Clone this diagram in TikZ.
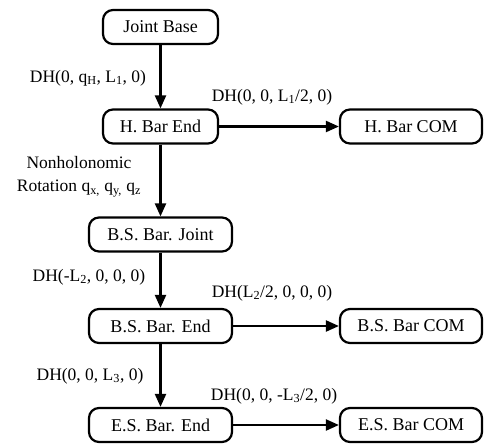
\documentclass[tikz,border=0pt]{standalone}
\usepackage{fontspec}
\setmainfont{Liberation Serif}
\usetikzlibrary{arrows.meta}
\begin{document}
\begin{tikzpicture}[x=1pt,y=-1pt,
  box/.style={draw, line width=2.2pt, rounded corners=10pt, minimum height=34pt, inner sep=0pt, font=\fontsize{18}{20}\selectfont},
  lbl/.style={inner sep=0pt, font=\fontsize{17.5}{23}\selectfont},
  arr/.style={line width=2.2pt, -{Triangle[length=13pt,width=11pt]}}]
\useasboundingbox (0,0) rectangle (484,445);
\node[box, minimum width=115pt] (jb) at (160.5,27) {Joint Base};
\node[box, minimum width=115pt] (hbe) at (160.5,126.5) {H. Bar End};
\node[box, minimum width=142pt] (hbc) at (411,126.5) {H. Bar COM};
\node[box, minimum width=143pt] (bsj) at (160.5,234.5) {B.S. Bar. Joint};
\node[box, minimum width=143pt] (bse) at (160.5,326) {B.S. Bar. End};
\node[box, minimum width=142pt] (bsc) at (411,326) {B.S. Bar COM};
\node[box, minimum width=143pt] (ese) at (160.5,425) {E.S. Bar. End};
\node[box, minimum width=142pt] (esc) at (411,425) {E.S. Bar COM};
\draw[arr] (jb) -- (hbe);
\draw[arr] (hbe) -- (hbc);
\draw[arr] (hbe) -- (bsj);
\draw[arr] (bsj) -- (bse);
\draw[arr] (bse) -- (bsc);
\draw[arr] (bse) -- (ese);
\draw[arr] (ese) -- (esc);
\node[lbl] (l1) at (88,78) {DH(0, q\textsubscript{H}, L\textsubscript{1}, 0)};
\node[lbl] (l2) at (272,97) {DH(0, 0, L\textsubscript{1}/2, 0)};
\node[lbl, align=center] (l3) at (79,177) {Nonholonomic\\Rotation q\textsubscript{x,} q\textsubscript{y,} q\textsubscript{z}};
\node[lbl] (l4) at (89,277) {DH(-L\textsubscript{2}, 0, 0, 0)};
\node[lbl] (l5) at (272,293) {DH(L\textsubscript{2}/2, 0, 0, 0)};
\node[lbl] (l6) at (90,376) {DH(0, 0, L\textsubscript{3}, 0)};
\node[lbl] (l7) at (274,396) {DH(0, 0, -L\textsubscript{3}/2, 0)};
\end{tikzpicture}
\end{document}
